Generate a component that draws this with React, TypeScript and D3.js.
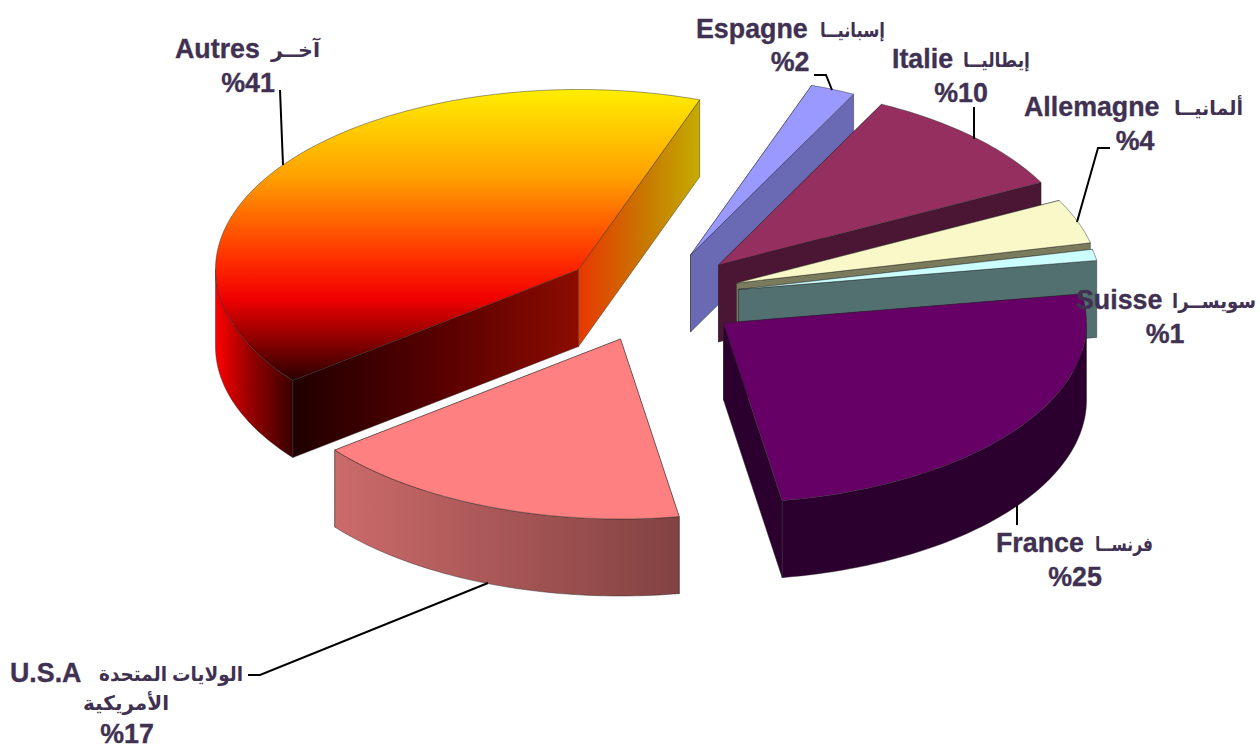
import React from "react";
import * as d3 from "d3";

const names = ["Autres", "U.S.A", "France", "Suisse", "Allemagne", "Italie", "Espagne"];
const values = [41, 17, 25, 1, 4, 10, 2];
const arabicNames = ["آخــر", "الولايات المتحدة", "فرنســا", "سويســرا", "ألمانيــا", "إيطاليــا", "إسبانيــا"];
const arabicSecondLine = "الأمريكية";
const topColors = ["url(#autresTop)", "#ff8080", "#660066", "#ccffff", "#f8f8c8", "#952f60", "#9999ff"];
const wallColors = ["url(#autresOuter)", "url(#usaOuter)", "#2c002e", "#527070", "#7a7a5c", "#4a1633", "#6a6ab4"];
const startCutColors = ["url(#autresRight)", "#804040", "#2c002e", "#527070", "#7a7a5c", "#4a1633", "#6a6ab4"];
const endCutColors = ["url(#autresFront)", "#804040", "#2a0030", "#527070", "#7a7a5c", "#4a1633", "#6a6ab4"];
const drawOrder = ["Autres", "U.S.A", "Espagne", "Italie", "Allemagne", "Suisse", "France"];

const rx = 363;
const ry = 180;
const depth = 77;
const firstAngle = 19.5;
const apexes: Record<string, [number, number]> = {
  Autres: [578.5, 269.5],
  "U.S.A": [620.5, 339],
  France: [723.5, 323],
  Suisse: [738.5, 289.5],
  Allemagne: [736.5, 283],
  Italie: [718.5, 265],
  Espagne: [690.5, 255],
};
const ink = "#403152";
const latinFont = "'Liberation Sans', Arial, sans-serif";
const arabicFont = "'Liberation Sans', 'DejaVu Sans', sans-serif";

const rad = (d: number) => (d * Math.PI) / 180;
const slices = d3
  .pie<number>()
  .sort(null)
  .value((d) => d)
  .startAngle(rad(firstAngle))
  .endAngle(rad(firstAngle - 360))(values);

const line = d3.line();
type P = [number, number];
const onRim = (a: P, t: number, dy = 0): P => [a[0] + rx * Math.sin(t), a[1] - ry * Math.cos(t) + dy];
const rim = (a: P, t0: number, t1: number, dy = 0): P[] => {
  const n = Math.max(2, Math.ceil((Math.abs(t1 - t0) * 180) / Math.PI));
  return d3.range(n + 1).map((i) => onRim(a, t0 + ((t1 - t0) * i) / n, dy));
};
// part of the arc that lies on the lower half of the ellipse
const lowerRange = (t0: number, t1: number): [number, number] | null => {
  for (const k of [-1, 0, 1]) {
    const lo = rad(90) + k * 2 * Math.PI;
    const hi = rad(270) + k * 2 * Math.PI;
    const a = Math.max(t1, lo);
    const b = Math.min(t0, hi);
    if (b > a) return [b, a];
  }
  return null;
};

function Slice({ name }: { name: string }) {
  const i = names.indexOf(name);
  const s = slices[i];
  const a = apexes[name];
  const t0 = s.startAngle;
  const t1 = s.endAngle;
  const edge = { stroke: "#2a2a2a", strokeWidth: 0.7, strokeOpacity: 0.65, strokeLinejoin: "round" as const };
  const cut = (t: number, fill: string) => {
    const p = onRim(a, t);
    const q = onRim(a, t, depth);
    return <path d={line([a, p, q, [a[0], a[1] + depth]])! + "Z"} fill={fill} {...edge} />;
  };
  const low = lowerRange(t0, t1);
  return (
    <g>
      {cut(t1, endCutColors[i])}
      {cut(t0, startCutColors[i])}
      {low && (
        <path
          d={line([...rim(a, low[0], low[1]), ...rim(a, low[1], low[0], depth)])! + "Z"}
          fill={wallColors[i]}
          {...edge}
        />
      )}
      <path d={line([a, ...rim(a, t0, t1)])! + "Z"} fill={topColors[i]} {...edge} />
    </g>
  );
}

const heavy = { stroke: ink, strokeWidth: 0.35 };

function Label({ x, y, ax, aw, name, px, py }: any) {
  const i = names.indexOf(name);
  return (
    <g fill={ink} fontWeight="bold">
      <text x={x} y={y} fontFamily={latinFont} fontSize={26.8} direction="ltr" {...heavy}>
        {name}
      </text>
      <text
        x={ax}
        y={y - 1}
        fontFamily={arabicFont}
        fontSize={20}
        textLength={aw}
        lengthAdjust="spacingAndGlyphs"
        direction="rtl"
        textAnchor="start"
      >
        {arabicNames[i]}
      </text>
      <text x={px} y={py} fontFamily={latinFont} fontSize={26.8} textAnchor="middle" direction="ltr" {...heavy}>
        {"%" + values[i]}
      </text>
    </g>
  );
}

const leaders = [
  "M280,90L283,165",
  "M814,75H826L832,90",
  "M974,107V139",
  "M1110,148H1098L1077,222",
  "M1017,505V525",
  "M248,675H260L488,583",
];

export default function App() {
  return (
    <svg
      width={1260}
      height={746}
      viewBox="0 0 1260 746"
      style={{ position: "absolute", left: 0, top: 0, display: "block", background: "#fff" }}
    >
      <defs>
        <linearGradient id="autresTop" x1="0" y1="0" x2="0" y2="1">
          <stop offset="0" stopColor="#ffee00" />
          <stop offset="0.3" stopColor="#ffa000" />
          <stop offset="0.58" stopColor="#ff3000" />
          <stop offset="0.72" stopColor="#f00000" />
          <stop offset="1" stopColor="#280000" />
        </linearGradient>
        <linearGradient id="autresOuter" x1="0" y1="0" x2="1" y2="0">
          <stop offset="0" stopColor="#ff0000" />
          <stop offset="0.45" stopColor="#960000" />
          <stop offset="1" stopColor="#3a0000" />
        </linearGradient>
        <linearGradient id="autresFront" x1="0" y1="0" x2="1" y2="0">
          <stop offset="0" stopColor="#200000" />
          <stop offset="0.5" stopColor="#560000" />
          <stop offset="1" stopColor="#8c0c00" />
        </linearGradient>
        <linearGradient id="autresRight" x1="0" y1="0" x2="1" y2="0">
          <stop offset="0" stopColor="#e83800" />
          <stop offset="0.55" stopColor="#c87800" />
          <stop offset="1" stopColor="#c4ac00" />
        </linearGradient>
        <linearGradient id="usaOuter" x1="0" y1="0" x2="1" y2="0">
          <stop offset="0" stopColor="#cc6a6a" />
          <stop offset="1" stopColor="#824242" />
        </linearGradient>
      </defs>
      {drawOrder.map((n) => (
        <Slice key={n} name={n} />
      ))}
      <path d={leaders.join("")} fill="none" stroke="#000" strokeWidth={2} />
      <Label name="Autres" x={175} y={58} ax={320} aw={49} px={248} py={92} />
      <Label name="Espagne" x={696} y={38} ax={885} aw={65} px={790} py={71} />
      <Label name="Italie" x={892} y={68} ax={1030} aw={67} px={961} py={102} />
      <Label name="Allemagne" x={1024} y={116} ax={1243} aw={69} px={1135} py={150} />
      <Label name="Suisse" x={1076} y={309} ax={1256} aw={84} px={1165} py={343} />
      <Label name="France" x={996} y={552} ax={1153} aw={58} px={1075} py={586} />
      <Label name="U.S.A" x={10} y={682} ax={243} aw={144} px={127} py={743} />
      <text x={126} y={710} fill={ink} fontWeight="bold" fontFamily={arabicFont} fontSize={20} textAnchor="middle" direction="rtl">
        {arabicSecondLine}
      </text>
    </svg>
  );
}
